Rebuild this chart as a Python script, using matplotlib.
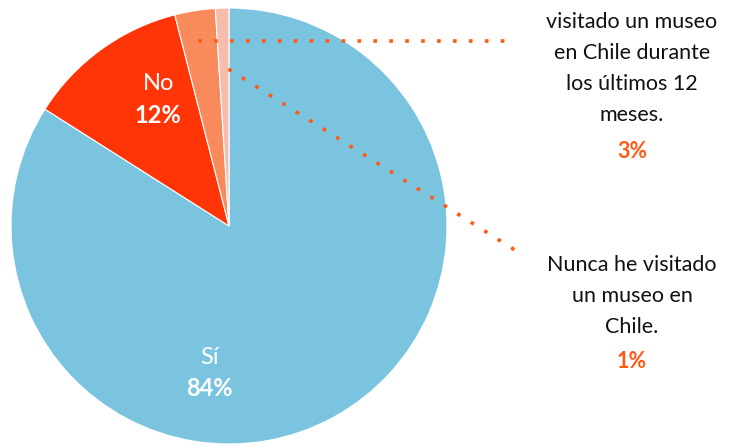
import matplotlib.pyplot as plt

W, H = 733, 444

categories = ["Sí", "No", "visitado fuera", "Nunca"]
shares = [84, 12, 3, 1]
colors = ["#7AC4E0", "#FF3407", "#F98A5B", "#F6BCAD"]

label_3 = "visitado un museo\nen Chile durante\nlos últimos 12\nmeses."
label_1 = "Nunca he visitado\nun museo en\nChile."

ORANGE = "#FF5A14"


def main():
    plt.rcParams["font.family"] = ["Lato", "DejaVu Sans"]
    fig = plt.figure(figsize=(W / 100, H / 100), dpi=100)
    ax = fig.add_axes([0, 0, 1, 1])

    cx, cy, r = 229, H - 226, 218
    ax.pie(shares, colors=colors, startangle=90, counterclock=False,
           center=(cx, cy), radius=r, frame=True,
           wedgeprops=dict(linewidth=0.8, edgecolor="white"))
    ax.set_xlim(0, W)
    ax.set_ylim(0, H)
    ax.set_aspect("equal")
    ax.axis("off")

    # inside labels
    ax.text(159, H - 83, "No", color="white", fontsize=17, ha="center", va="center")
    ax.text(158, H - 115, f"{shares[1]}%", color="white", fontsize=17,
            fontweight="bold", ha="center", va="center")
    ax.text(209, H - 357, "Sí", color="white", fontsize=17, ha="center", va="center")
    ax.text(209, H - 389, f"{shares[0]}%", color="white", fontsize=17,
            fontweight="bold", ha="center", va="center")

    # leader lines (square dots)
    dots = dict(color=ORANGE, lw=2.6, linestyle=(0, (0.01, 4.4)),
                dash_capstyle="projecting")
    ax.plot([200, 505], [H - 41, H - 41], **dots)
    ax.plot([230, 518], [H - 70, H - 252], **dots)

    # outside labels
    ax.text(632, H - 12, label_3, fontsize=15.5, ha="center", va="top",
            linespacing=1.68, color="#111111")
    ax.text(632, H - 151, f"{shares[2]}%", fontsize=15.5, fontweight="bold",
            color=ORANGE, ha="center", va="center")
    ax.text(632, H - 255, label_1, fontsize=15.5, ha="center", va="top",
            linespacing=1.68, color="#111111")
    ax.text(632, H - 361, f"{shares[3]}%", fontsize=15.5, fontweight="bold",
            color=ORANGE, ha="center", va="center")

    fig.savefig("out.png", dpi=100)
    plt.close(fig)


if __name__ == "__main__":
    main()
